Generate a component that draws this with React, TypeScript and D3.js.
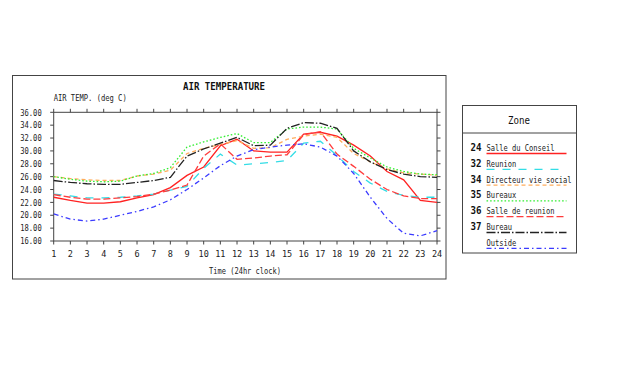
import React from "react";
import * as d3 from "d3";

const hours = d3.range(1, 25);
const yTicks = [16, 18, 20, 22, 24, 26, 28, 30, 32, 34, 36];

const zone24 = [22.8, 22.3, 21.9, 21.9, 22.1, 22.7, 23.2, 24.3, 26.2, 27.5, 30.8, 31.8, 30.0, 29.8, 29.8, 32.6, 32.9, 32.3, 30.9, 29.2, 26.8, 25.5, 22.3, 22.0];
const zone32 = [23.3, 23.0, 22.7, 22.7, 22.8, 23.0, 23.3, 23.9, 24.5, 27.3, 29.5, 27.8, 28.0, 28.2, 28.5, 31.2, 31.5, 29.3, 26.8, 25.0, 23.7, 23.1, 22.8, 22.8];
const zone34 = [26.0, 25.7, 25.5, 25.4, 25.4, 26.1, 26.4, 27.0, 29.6, 30.4, 31.0, 31.6, 30.4, 30.5, 31.8, 32.3, 32.6, 32.1, 29.6, 28.3, 27.2, 26.6, 26.4, 26.2];
const zone35 = [26.0, 25.6, 25.3, 25.2, 25.3, 26.1, 26.5, 27.4, 30.6, 31.4, 32.1, 32.7, 31.3, 31.3, 33.4, 33.7, 33.7, 33.4, 30.4, 28.9, 27.5, 26.8, 26.4, 26.3];
const zone36 = [23.2, 22.8, 22.5, 22.5, 22.7, 22.9, 23.3, 23.9, 24.7, 29.2, 31.1, 28.7, 28.9, 29.2, 29.4, 32.5, 33.0, 29.5, 27.6, 25.6, 24.0, 23.0, 22.6, 22.6];
const zone37 = [25.4, 25.1, 24.9, 24.8, 24.8, 25.1, 25.4, 25.9, 29.2, 30.3, 31.2, 32.1, 30.8, 30.9, 33.5, 34.4, 34.3, 33.5, 30.0, 28.3, 27.1, 26.4, 26.0, 25.9];
const outside = [20.2, 19.4, 19.1, 19.4, 20.0, 20.6, 21.3, 22.4, 24.0, 25.8, 27.7, 29.2, 30.2, 30.6, 30.9, 31.1, 30.6, 29.2, 26.5, 22.8, 19.5, 17.2, 16.8, 17.6];

const zoneNumbers = ["24", "32", "34", "35", "36", "37", ""];
const zoneNames = ["Salle du Conseil", "Reunion", "Directeur vie social", "Bureaux", "Salle de reunion", "Bureau", "Outside"];
const seriesValues = [zone24, zone32, zone34, zone35, zone36, zone37, outside];

const styles = [
  { color: "#ff2222", dash: "" },
  { color: "#33dde6", dash: "8,8" },
  { color: "#ffad5c", dash: "4,3" },
  { color: "#33ee33", dash: "1.6,2" },
  { color: "#ff3b3b", dash: "7,3" },
  { color: "#222222", dash: "9,2,1.5,2" },
  { color: "#3b3bff", dash: "5,3,1.5,3" },
];

const MONO = "'DejaVu Sans Mono', monospace";

export default function App() {
  const x = d3.scaleLinear().domain([1, 24]).range([53.7, 437]);
  const y = d3.scaleLinear().domain([16, 36]).range([241, 112.3]);
  const line = d3
    .line<number>()
    .x((_, i) => x(hours[i]))
    .y((d) => y(d));

  const frame = "#444";

  return (
    <svg
      width={630}
      height={369}
      style={{ position: "absolute", left: 0, top: 0, background: "#fff" }}
    >
      <rect x={0} y={0} width={630} height={369} fill="#fff" />
      <rect x={12.5} y={75.5} width={433.5} height={203.5} fill="none" stroke={frame} strokeWidth={1} />
      <text x={183} y={90} fontFamily={MONO} fontSize={10.5} fontWeight="bold" textLength={82} lengthAdjust="spacingAndGlyphs" fill="#111">
        AIR TEMPERATURE
      </text>
      <text x={53.7} y={101} fontFamily={MONO} fontSize={8.5} textLength={73} lengthAdjust="spacingAndGlyphs" fill="#222">
        AIR TEMP. (deg C)
      </text>
      <rect x={x(1)} y={y(36)} width={x(24) - x(1)} height={y(16) - y(36)} fill="none" stroke={frame} strokeWidth={1} />
      {hours.map((h) => (
        <g key={"xt" + h}>
          <line x1={x(h)} x2={x(h)} y1={y(36)} y2={y(36) - 3.5} stroke={frame} />
          <line x1={x(h)} x2={x(h)} y1={y(16)} y2={y(16) + 3.5} stroke={frame} />
          <text x={x(h)} y={256.5} textAnchor="middle" fontFamily={MONO} fontSize={8.5} fill="#222">
            {h}
          </text>
        </g>
      ))}
      {yTicks.map((t) => (
        <g key={"yt" + t}>
          <line x1={x(1)} x2={x(1) - 3.5} y1={y(t)} y2={y(t)} stroke={frame} />
          <line x1={x(24)} x2={x(24) + 3.5} y1={y(t)} y2={y(t)} stroke={frame} />
          <text x={41.7} y={y(t) + 3.2} textAnchor="end" fontFamily={MONO} fontSize={8.8} textLength={21.5} lengthAdjust="spacingAndGlyphs" fill="#222">
            {t.toFixed(2)}
          </text>
        </g>
      ))}
      <text x={209} y={273.5} fontFamily={MONO} fontSize={8.5} textLength={72} lengthAdjust="spacingAndGlyphs" fill="#222">
        Time (24hr clock)
      </text>
      {seriesValues.map((vals, i) => (
        <path
          key={"s" + i}
          d={line(vals) || ""}
          fill="none"
          stroke={styles[i].color}
          strokeWidth={1.3}
          strokeDasharray={styles[i].dash}
        />
      ))}
      <rect x={462.5} y={105.5} width={114} height={147.5} fill="none" stroke={frame} strokeWidth={1} />
      <line x1={462.5} x2={576.5} y1={133} y2={133} stroke={frame} />
      <text x={519} y={123.5} textAnchor="middle" fontFamily={MONO} fontSize={10.5} textLength={22} lengthAdjust="spacingAndGlyphs" fill="#111">
        Zone
      </text>
      {zoneNames.map((name, i) => {
        const base = 151 + i * 15.8;
        return (
          <g key={"lg" + i}>
            {zoneNumbers[i] && (
              <text x={470.5} y={base} fontFamily={MONO} fontSize={11} fontWeight="bold" textLength={11} lengthAdjust="spacingAndGlyphs" fill="#111">
                {zoneNumbers[i]}
              </text>
            )}
            <text x={486.5} y={base} fontFamily={MONO} fontSize={8.5} textLength={name.length * 4.25} lengthAdjust="spacingAndGlyphs" fill="#222">
              {name}
            </text>
            <line
              x1={486.5}
              x2={i === 1 ? 561.5 : 566.5}
              y1={base + 2.5}
              y2={base + 2.5}
              stroke={styles[i].color}
              strokeWidth={1.3}
              strokeDasharray={styles[i].dash}
            />
          </g>
        );
      })}
    </svg>
  );
}
